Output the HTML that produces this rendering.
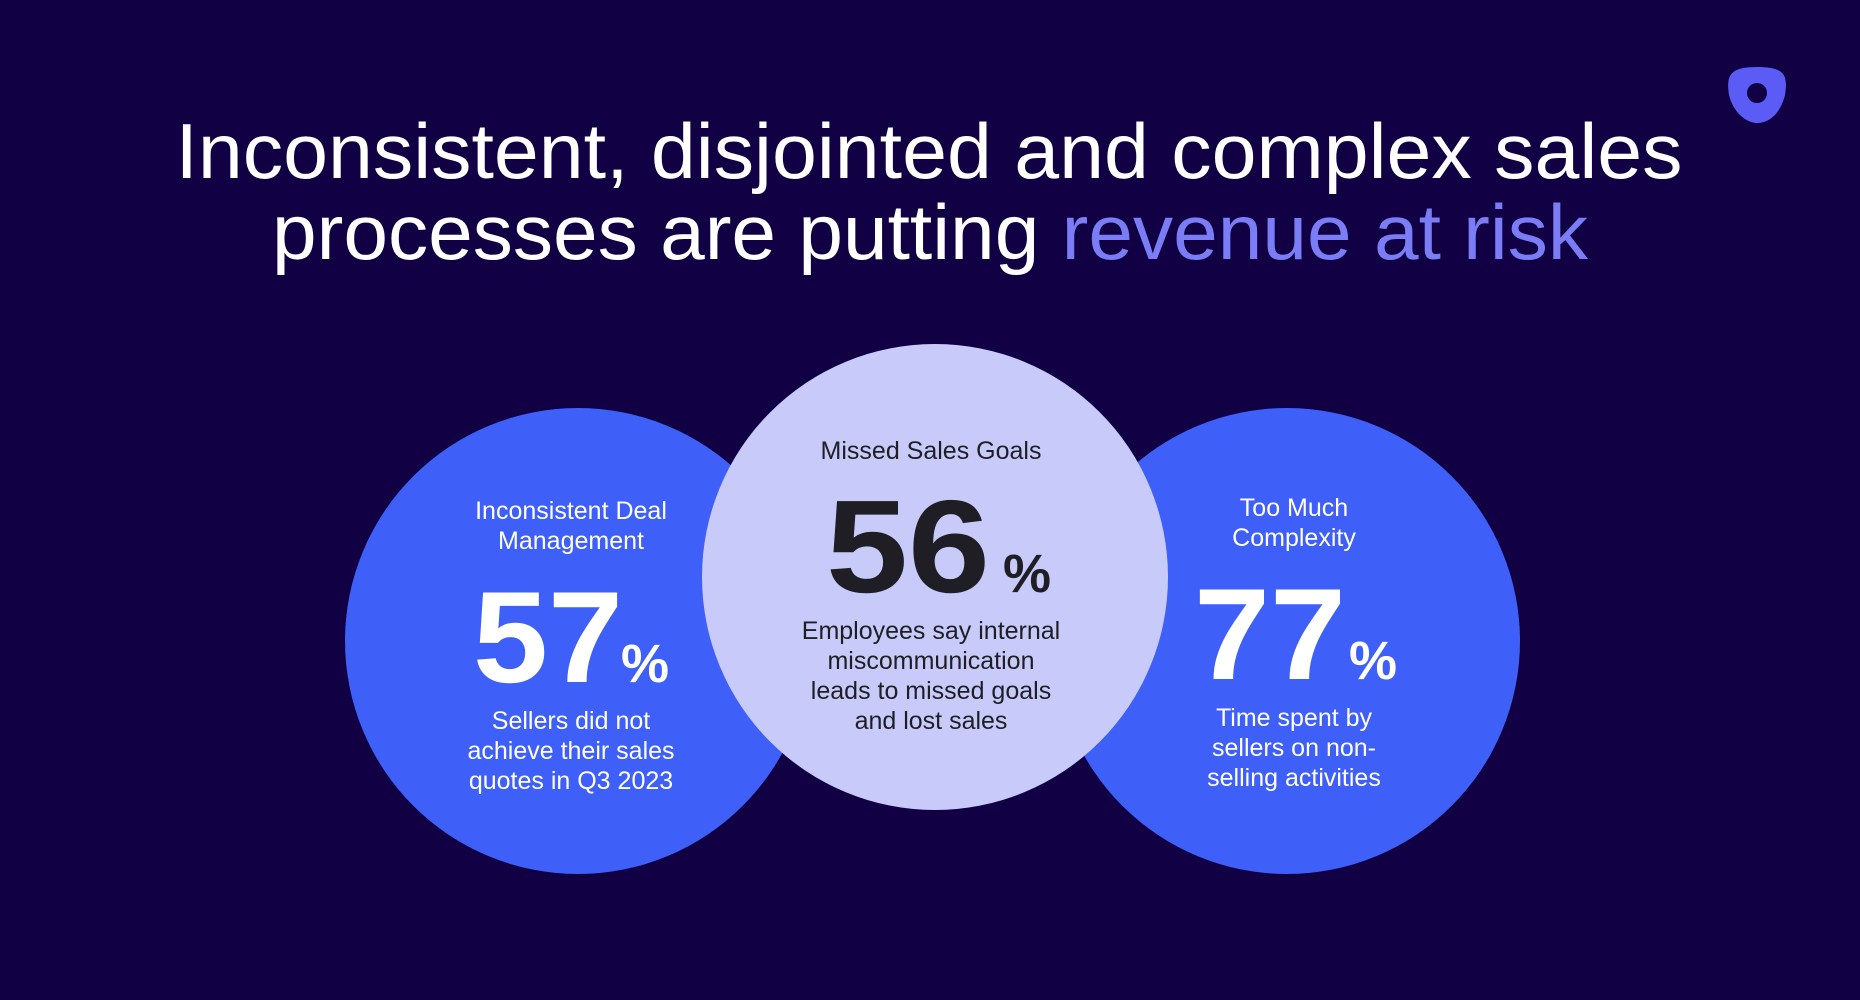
<!DOCTYPE html>
<html><head><meta charset="utf-8"><style>
html,body{margin:0;padding:0;background:#110043;}
svg{display:block}
text{font-family:"Liberation Sans",sans-serif;}
</style></head><body>
<svg width="1860" height="1000" viewBox="0 0 1860 1000">
<rect width="1860" height="1000" fill="#110043"/>
<path d="M1757 67 C1785 67 1788 75 1785 95 C1780 115 1768 123 1757 123 C1746 123 1733 112 1729 95 C1726 75 1730 67 1757 67 Z" fill="#5b5cf6"/>
<circle cx="1757" cy="93" r="10" fill="#110043"/>
<text x="929" y="178" font-size="78" fill="#fff" text-anchor="middle" textLength="1507" lengthAdjust="spacingAndGlyphs">Inconsistent, disjointed and complex sales</text>
<text x="272" y="259" font-size="78" fill="#fff" textLength="1316" lengthAdjust="spacingAndGlyphs">processes are putting <tspan fill="#7b7df7">revenue at risk</tspan></text>
<circle cx="578" cy="641" r="233" fill="#3e5ff8"/>
<circle cx="1287" cy="641" r="233" fill="#3e5ff8"/>
<circle cx="935" cy="577" r="233" fill="#c8cbfa"/>
<g fill="#fff" text-anchor="middle" font-size="25">
<text x="571" y="519">Inconsistent Deal</text>
<text x="571" y="549">Management</text>
<text x="548" y="682" font-size="130" font-weight="bold" textLength="150" lengthAdjust="spacingAndGlyphs">57</text>
<text x="645" y="682" font-size="54" font-weight="bold">%</text>
<text x="571" y="729">Sellers did not</text>
<text x="571" y="759">achieve their sales</text>
<text x="571" y="789">quotes in Q3 2023</text>
<text x="1294" y="516">Too Much</text>
<text x="1294" y="546">Complexity</text>
<text x="1270" y="679" font-size="130" font-weight="bold" textLength="152" lengthAdjust="spacingAndGlyphs">77</text>
<text x="1373" y="679" font-size="54" font-weight="bold">%</text>
<text x="1294" y="726">Time spent by</text>
<text x="1294" y="756">sellers on non-</text>
<text x="1294" y="786">selling activities</text>
</g>
<g fill="#1e1e24" text-anchor="middle" font-size="25">
<text x="931" y="459">Missed Sales Goals</text>
<text x="908" y="592" font-size="132" font-weight="bold" textLength="164" lengthAdjust="spacingAndGlyphs">56</text>
<text x="1027" y="592" font-size="54" font-weight="bold">%</text>
<text x="931" y="639">Employees say internal</text>
<text x="931" y="669">miscommunication</text>
<text x="931" y="699">leads to missed goals</text>
<text x="931" y="729">and lost sales</text>
</g>
</svg>
</body></html>
